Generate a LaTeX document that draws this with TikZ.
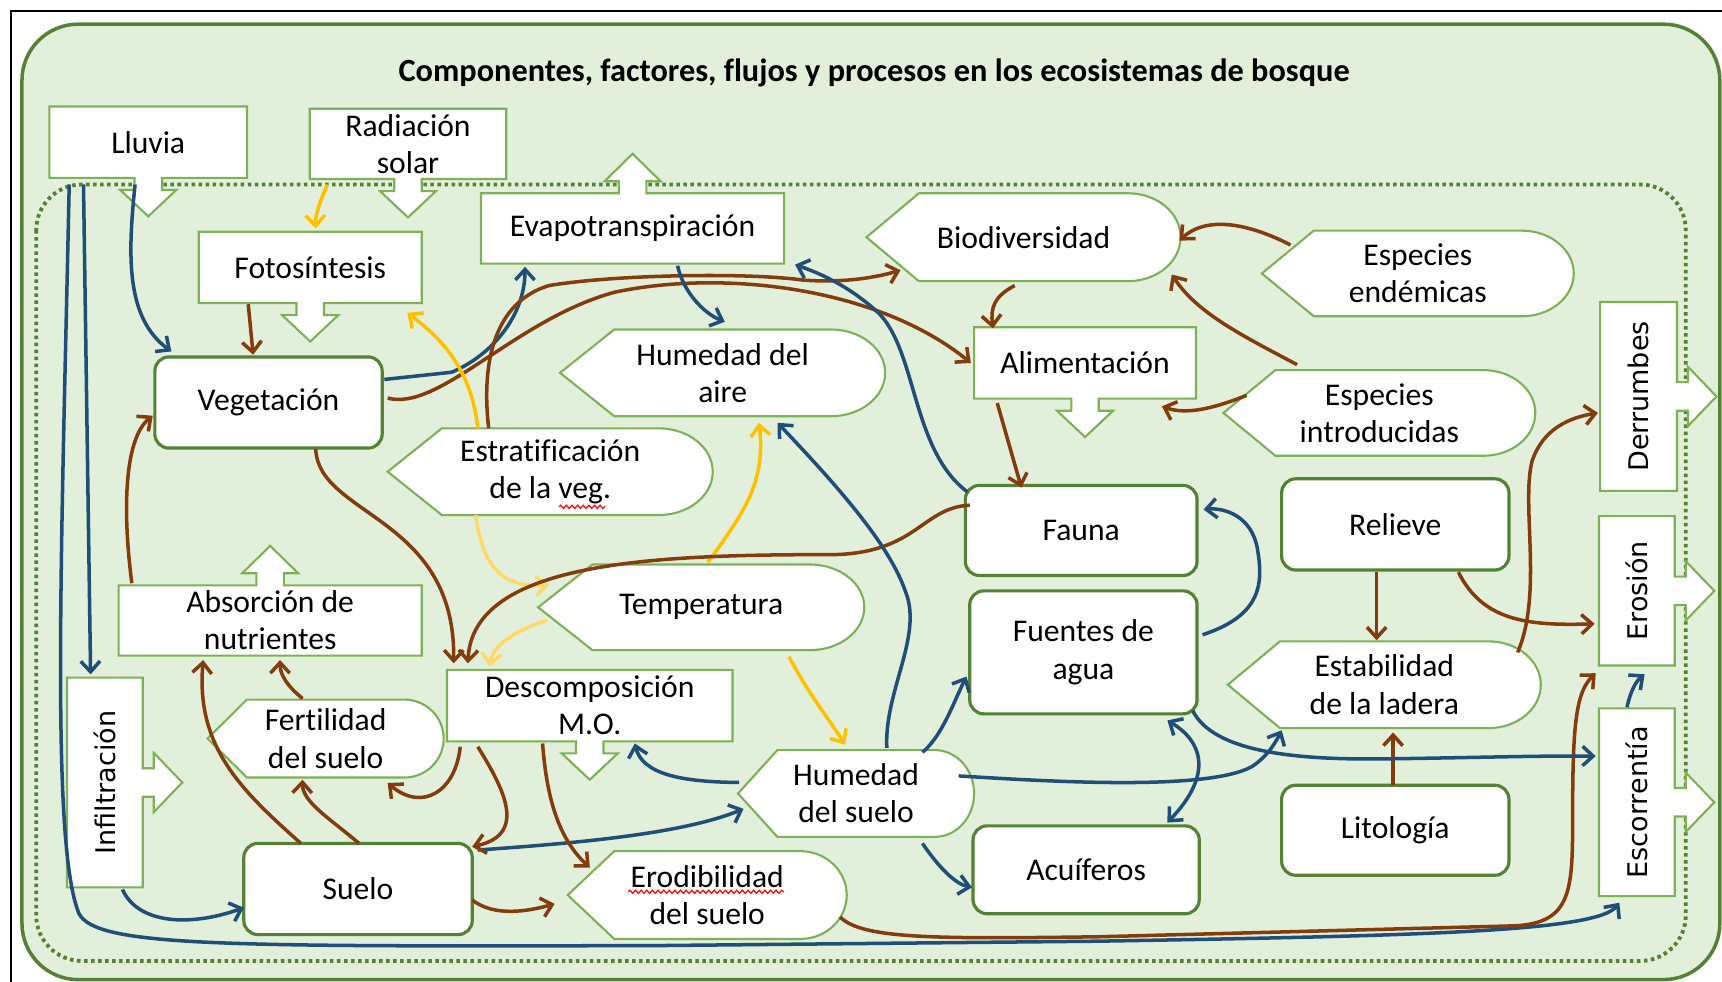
\documentclass[tikz,border=0pt]{standalone}
\usepackage{fontspec}
\setmainfont{Carlito}[Ligatures={NoCommon}]
\newfontfamily\girofont{DejaVu Sans}
\usetikzlibrary{arrows.meta}
\usetikzlibrary{calc}
\usetikzlibrary{decorations.pathmorphing}
\usepackage{xcolor}
\definecolor{bosquefondo}{HTML}{E2EFDA}
\definecolor{bosqueverde}{HTML}{548235}
\definecolor{bosqueclaro}{HTML}{7CB255}
\definecolor{flujocafe}{HTML}{843C0C}
\definecolor{flujoazul}{HTML}{1F4E79}
\definecolor{flujosol}{HTML}{FFC000}
\definecolor{flujosolclaro}{HTML}{FFD966}

\tikzset{
  borde/.style={draw=bosqueclaro,line width=0.6pt,fill=white},
  bordefuerte/.style={draw=bosqueverde,line width=0.9pt,fill=white,rounded corners=4pt},
  etiqueta/.style={rectangle,inner sep=0pt,outer sep=0pt,align=center,font=\fontsize{9}{10.6}\selectfont},
  cafe/.style={draw=flujocafe,line width=1pt},
  azul/.style={draw=flujoazul,line width=1pt},
  sol/.style={draw=flujosol,line width=1pt},
  solclaro/.style={draw=flujosolclaro,line width=1pt},
  subrayado/.style={draw=red,line width=0.35pt,decorate,decoration={snake,amplitude=0.45pt,segment length=1.6pt}}
}

% nodo con el tamano exacto de la caja
\newcommand{\bqnodo}[6]{%
  \pgfmathsetmacro{\bqw}{(#4-#2)*0.31246}%
  \pgfmathsetmacro{\bqh}{(#5-#3)*0.31246}%
  \node[etiqueta,minimum width=\bqw pt,minimum height=\bqh pt] (#1) at ({(#2+#4)/2},{(#3+#5)/2}) {#6};}
% caja con flecha hacia abajo
\newcommand{\cajaabajo}[6]{%
  \pgfmathsetmacro{\bqx}{(#2+#4)/2}%
  \draw[borde] (#2,#3) -- (#4,#3) -- (#4,#5) -- (\bqx+12.5,#5) -- (\bqx+12.5,#5+11) -- (\bqx+25.5,#5+11) -- (\bqx,#5+35) -- (\bqx-25.5,#5+11) -- (\bqx-12.5,#5+11) -- (\bqx-12.5,#5) -- (#2,#5) -- cycle;
  \bqnodo{#1}{#2}{#3}{#4}{#5}{#6}}
% caja con flecha hacia arriba
\newcommand{\cajaarriba}[6]{%
  \pgfmathsetmacro{\bqx}{(#2+#4)/2}%
  \draw[borde] (#2,#3) -- (\bqx-12.5,#3) -- (\bqx-12.5,#3-11) -- (\bqx-25.5,#3-11) -- (\bqx,#3-36) -- (\bqx+25.5,#3-11) -- (\bqx+12.5,#3-11) -- (\bqx+12.5,#3) -- (#4,#3) -- (#4,#5) -- (#2,#5) -- cycle;
  \bqnodo{#1}{#2}{#3}{#4}{#5}{#6}}
% caja vertical con flecha a la derecha
\newcommand{\cajaderecha}[6]{%
  \pgfmathsetmacro{\bqy}{(#3+#5)/2}%
  \pgfmathsetmacro{\bqw}{(#4-#2)*0.31246}%
  \pgfmathsetmacro{\bqh}{(#5-#3)*0.31246}%
  \draw[borde] (#2,#3) -- (#4,#3) -- (#4,\bqy-13) -- (#4+10,\bqy-13) -- (#4+10,\bqy-27) -- (#4+36,\bqy) -- (#4+10,\bqy+27) -- (#4+10,\bqy+13) -- (#4,\bqy+13) -- (#4,#5) -- (#2,#5) -- cycle;
  \node[etiqueta,font=\girofont\fontsize{7.7}{9}\selectfont,rotate=90,minimum width=\bqh pt,minimum height=\bqw pt] (#1) at ({(#2+#4)/2},\bqy) {#6};}
% forma de pantalla
\newcommand{\pantalla}[6]{%
  \pgfmathsetmacro{\bqd}{(#4-#2)/6}%
  \pgfmathsetmacro{\bqy}{(#3+#5)/2}%
  \pgfmathsetmacro{\bqr}{(#5-#3)/2}%
  \draw[borde] (#2,\bqy) -- (#2+\bqd,#3) -- (#4-\bqd,#3)
    .. controls (#4-\bqd+0.5523*\bqd,#3) and (#4,\bqy-0.5523*\bqr) .. (#4,\bqy)
    .. controls (#4,\bqy+0.5523*\bqr) and (#4-\bqd+0.5523*\bqd,#5) .. (#4-\bqd,#5)
    -- (#2+\bqd,#5) -- cycle;
  \bqnodo{#1}{#2}{#3}{#4}{#5}{#6}}
% caja redondeada
\newcommand{\redondo}[6]{%
  \draw[bordefuerte] (#2,#3) rectangle (#4,#5);
  \bqnodo{#1}{#2}{#3}{#4}{#5}{#6}}

\begin{document}
\begin{tikzpicture}[x=0.010982cm,y=-0.010982cm,>={Straight Barb[length=3pt,width=5.5pt]}]
	\useasboundingbox (0,0) rectangle (1568,894);
	\draw[draw=bosqueverde,line width=1pt,fill=bosquefondo,rounded corners=16pt] (20,22) rectangle (1566,892);
	\draw[line width=0.7pt] (1568,10) -- (10,10) -- (10,894);
	\draw[bosqueverde,line width=1.1pt,dash pattern=on 1pt off 1pt,rounded corners=13pt] (33,168) rectangle (1535,875);
	\node[font=\bfseries\fontsize{9.2}{11}\selectfont] (titulo) at (796,66) {Componentes, factores, flujos y procesos en los ecosistemas de bosque};
	%
	\cajaabajo{lluvia}{45}{97}{225}{162}{Lluvia}
	\cajaabajo{radiacion}{282}{99}{461}{163}{Radiación\\solar}
	\cajaarriba{evapo}{438}{176}{714}{240}{Evapotranspiración}
	\cajaabajo{fotosintesis}{181}{211}{384}{276}{Fotosíntesis}
	\cajaabajo{alimentacion}{887}{298}{1089}{363}{Alimentación}
	\cajaabajo{descomp}{407}{610}{667}{675}{Descomposición\\M.O.}
	\cajaarriba{absorcion}{108}{533}{384}{597}{Absorción de\\nutrientes}
	\cajaderecha{derrumbes}{1457}{275}{1527}{447}{Derrumbes}
	\cajaderecha{erosion}{1456}{470}{1525}{606}{Erosión}
	\cajaderecha{escorrentia}{1456}{645}{1525}{816}{Escorrentía}
	\cajaderecha{infiltracion}{61}{617}{130}{808}{Infiltración}
	%
	\pantalla{humaire}{510}{300}{806}{379}{Humedad del\\aire}
	\pantalla{estrat}{353}{390}{649}{469}{Estratificación\\de la veg.}
	\pantalla{biodiv}{789}{176}{1075}{256}{Biodiversidad}
	\pantalla{endemicas}{1149}{210}{1433}{288}{Especies\\endémicas}
	\pantalla{introducidas}{1114}{337}{1398}{415}{Especies\\introducidas}
	\pantalla{estabilidad}{1118}{584}{1403}{663}{Estabilidad\\de la ladera}
	\pantalla{humsuelo}{672}{683}{887}{762}{Humedad\\del suelo}
	\pantalla{temperatura}{490}{514}{787}{592}{Temperatura}
	\pantalla{fertilidad}{189}{637}{404}{708}{Fertilidad\\del suelo}
	\pantalla{erodibilidad}{517}{775}{771}{855}{Erodibilidad\\del suelo}
	\draw[subrayado] ($(estrat.center)+(8,32)$) -- ($(estrat.center)+(50,32)$);
	\draw[subrayado] ($(erodibilidad.center)+(-72,-3)$) -- ($(erodibilidad.center)+(70,-3)$);
	%
	\redondo{vegetacion}{141}{325}{348}{408}{Vegetación}
	\redondo{fauna}{879}{442}{1090}{524}{Fauna}
	\redondo{relieve}{1167}{436}{1374}{519}{Relieve}
	\redondo{fuentes}{883}{538}{1090}{650}{Fuentes de\\agua}
	\redondo{litologia}{1167}{715}{1374}{797}{Litología}
	\redondo{acuiferos}{886}{752}{1092}{832}{Acuíferos}
	\redondo{suelo}{222}{768}{430}{851}{Suelo}
	%
	\draw[azul,->] ($(lluvia.south)+(-12,6)$) .. controls (116,235) and (115,290) .. ($(vegetacion.north west)+(15,-5)$);
	\draw[azul,->] ($(lluvia.south west)+(31,6)$) -- ($(infiltracion.east)+(-13,-3)$);
	\draw[azul,->] ($(lluvia.south west)+(18,6)$) .. controls (56,500) and (46,770) .. (72,832) .. controls (88,862) and (200,862) .. (600,861) -- (1000,857) .. controls (1300,852) and (1455,848) .. ($(escorrentia.west)+(-16,6)$);
	\draw[sol,->] ($(radiacion.south west)+(16,5)$) .. controls (291,185) and (287,195) .. ($(fotosintesis.north)+(5,-3)$);
	\draw[cafe,->] ($(fotosintesis.south west)+(45,1)$) -- ($(vegetacion.north)+(-14,-2)$);
	\draw[cafe,->] ($(absorcion.north west)+(12,-2)$) .. controls (112,470) and (112,400) .. ($(vegetacion.west)+(-2,12)$);
	\draw[azul,->] ($(vegetacion.east)+(2,-21)$) -- (411,339) .. controls (445,325) and (478,290) .. ($(evapo.south west)+(40,3)$);
	\draw[cafe,->] ($(vegetacion.east)+(5,-4)$) .. controls (400,375) and (470,290) .. (560,266) .. controls (660,245) and (800,262) .. ($(alimentacion.west)+(-3,0)$);
	\draw[cafe,->] ($(estrat.north)+(-56,0)$) .. controls (438,330) and (450,275) .. (500,260) .. controls (560,250) and (680,248) .. (731,255) .. controls (770,258) and (800,252) .. ($(biodiv.south west)+(31,-10)$);
	\draw[sol,->] ($(estrat.north)+(-66,0)$) .. controls (430,340) and (405,310) .. ($(fotosintesis.south east)+(-13,9)$);
	\draw[solclaro,->] ($(estrat.south)+(-68,0)$) .. controls (440,515) and (455,535) .. ($(temperatura.west)+(10,-20)$);
	\draw[solclaro,->] ($(temperatura.west)+(8,12)$) .. controls (465,575) and (448,590) .. ($(descomp.north west)+(39,-3)$);
	\draw[sol,->] ($(temperatura.north)+(6,-2)$) .. controls (675,470) and (698,440) .. ($(humaire.south)+(33,6)$);
	\draw[sol,->] ($(temperatura.south)+(80,6)$) .. controls (735,630) and (755,655) .. ($(humsuelo.north)+(-10,-5)$);
	\draw[cafe,->] ($(vegetacion.south)+(43,1)$) .. controls (290,470) and (415,470) .. ($(descomp.north west)+(6,-6)$);
	\draw[cafe,->] ($(fauna.west)+(4,-23)$) .. controls (840,462) and (835,503) .. (760,505) .. controls (600,505) and (430,510) .. ($(descomp.north west)+(19,-6)$);
	\draw[azul,->] ($(fauna.north west)+(2,6)$) .. controls (830,410) and (835,320) .. (800,285) .. controls (775,262) and (750,250) .. ($(evapo.south east)+(10,1)$);
	\draw[azul,->] ($(humsuelo.north)+(28,-2)$) .. controls (805,630) and (840,580) .. (825,540) .. controls (810,495) and (760,440) .. ($(humaire.south)+(50,6)$);
	\draw[azul,->] ($(humsuelo.west)+(1,-10)$) .. controls (620,712) and (585,705) .. ($(descomp.south east)+(-89,2)$);
	\draw[azul,->] ($(suelo.north east)+(5,6)$) .. controls (520,768) and (620,760) .. ($(humsuelo.west)+(5,14)$);
	\draw[cafe,->] ($(descomp.south west)+(28,5)$) .. controls (460,720) and (480,760) .. ($(suelo.north east)+(0,3)$);
	\draw[cafe,->] ($(descomp.south west)+(12,5)$) .. controls (415,720) and (385,740) .. ($(fertilidad.south east)+(-51,5)$);
	\draw[cafe,->] ($(descomp.south west)+(87,2)$) .. controls (498,730) and (510,765) .. ($(erodibilidad.west)+(20,-25)$);
	\draw[cafe,->] ($(suelo.north west)+(52,0)$) .. controls (220,720) and (178,680) .. ($(absorcion.south west)+(77,4)$);
	\draw[cafe,->] ($(suelo.north)+(1,0)$) .. controls (300,745) and (275,730) .. ($(fertilidad.south)+(-21,2)$);
	\draw[cafe,->] ($(fertilidad.north)+(-21,-1)$) .. controls (262,625) and (255,615) .. ($(absorcion.south)+(9,4)$);
	\draw[azul,->] ($(infiltracion.west)+(16,2)$) .. controls (125,840) and (170,845) .. ($(suelo.west)+(0,17)$);
	\draw[cafe,->] ($(suelo.east)+(0,10)$) .. controls (450,835) and (480,830) .. ($(erodibilidad.west)+(-12,8)$);
	\draw[cafe,->] ($(erodibilidad.east)+(-6,20)$) .. controls (785,855) and (850,855) .. (1000,853) -- (1380,843) .. controls (1432,840) and (1432,810) .. (1432,740) .. controls (1432,660) and (1435,630) .. ($(erosion.north west)+(-3,7)$);
	\draw[cafe,->] ($(estabilidad.north east)+(-21,10)$) .. controls (1405,540) and (1385,460) .. (1395,420) .. controls (1405,390) and (1430,380) .. ($(derrumbes.north)+(-2,15)$);
	\draw[cafe,->] ($(relieve.south east)+(-46,2)$) .. controls (1350,565) and (1390,570) .. ($(erosion.north)+(-4,30)$);
	\draw[cafe,->] ($(relieve.south)+(-17,2)$) -- ($(estabilidad.north)+(-7,-1)$);
	\draw[cafe,->] ($(litologia.north)+(-2,0)$) -- ($(estabilidad.south)+(8,4)$);
	\draw[azul,->] ($(escorrentia.east)+(-9,-1)$) .. controls (1485,628) and (1490,620) .. ($(erosion.west)+(7,8)$);
	\draw[azul,->] ($(fuentes.south east)+(-4,-3)$) .. controls (1105,685) and (1180,692) .. (1260,691) .. controls (1340,690) and (1400,688) .. ($(escorrentia.north)+(-3,-42)$);
	\draw[azul,->] ($(humsuelo.east)+(-14,-16)$) .. controls (960,712) and (1100,720) .. (1140,698) .. controls (1155,688) and (1162,675) .. ($(estabilidad.south west)+(49,2)$);
	\draw[azul,->] ($(humsuelo.north east)+(-47,2)$) .. controls (858,670) and (868,640) .. ($(fuentes.west)+(-3,22)$);
	\draw[azul,->] ($(humsuelo.south east)+(-47,6)$) .. controls (855,790) and (870,805) .. ($(acuiferos.west)+(-1,16)$);
	\draw[azul,<->] ($(acuiferos.north east)+(-29,-3)$) .. controls (1105,705) and (1095,675) .. ($(fuentes.south east)+(-27,6)$);
	\draw[azul,->] ($(fuentes.east)+(5,-16)$) .. controls (1150,560) and (1150,530) .. (1145,500) .. controls (1140,470) and (1115,462) .. ($(fauna.east)+(6,-19)$);
	\draw[cafe,->] ($(alimentacion.south west)+(21,4)$) -- ($(fauna.north west)+(51,2)$);
	\draw[cafe,->] ($(biodiv.south)+(-8,4)$) .. controls (905,270) and (902,280) .. ($(alimentacion.north west)+(17,1)$);
	\draw[cafe,->] ($(endemicas.north west)+(26,13)$) .. controls (1140,205) and (1100,195) .. ($(biodiv.east)+(-1,3)$);
	\draw[cafe,->] ($(introducidas.north west)+(67,-5)$) .. controls (1130,305) and (1090,285) .. ($(biodiv.south east)+(-8,-6)$);
	\draw[cafe,->] ($(introducidas.west)+(21,-16)$) .. controls (1105,372) and (1080,378) .. ($(alimentacion.south east)+(-31,7)$);
	\draw[azul,->] ($(evapo.south)+(41,2)$) .. controls (622,265) and (640,285) .. ($(humaire.north)+(2,-7)$);
\end{tikzpicture}
\end{document}
